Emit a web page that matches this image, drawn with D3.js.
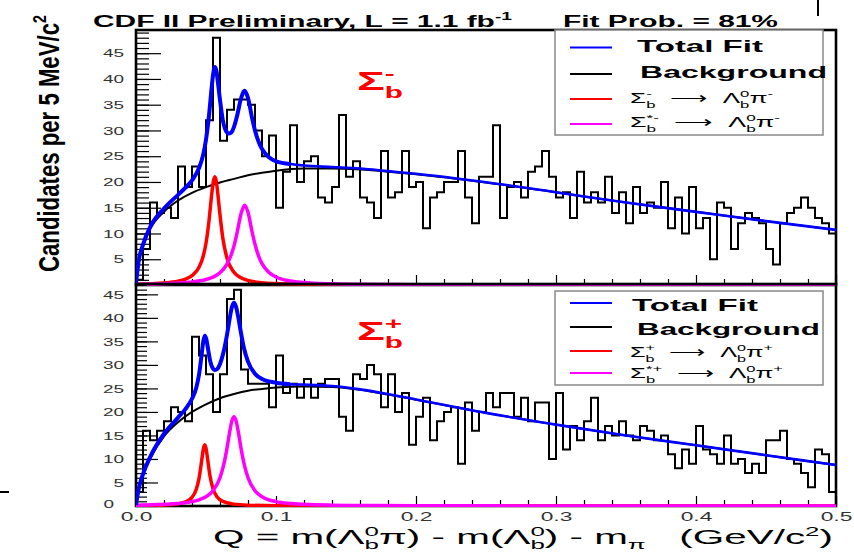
<!DOCTYPE html>
<html><head><meta charset="utf-8">
<script src="https://cdn.jsdelivr.net/npm/d3@7"></script>
<style>body{margin:0;background:#fff} svg{display:block}</style>
</head><body><svg id="c" width="854" height="554"></svg>
<script>
// ---------------- DATA ----------------
const binWidth = 0.005; // GeV/c^2 per bin
const topCounts = [1,7,16,14,15,13,23,19,23,19, 32,48,28,34,36,36,35,30,25,29,
  15,22,31,20,24,25,17,16,19,33, 21,24,17,16,13,26,17,18,26,19,
  20,11,17,18,20,20,26,17,12,21, 21,31,13,19,20,17,22,23,26,21,
  17,18,13,22,16,18,16,21,14,18, 12,19,14,16,15,20,11,17,10,19,
  11,13,5,16,15,7,12,14,13,12, 7,4,12,14,15,17,15,13,12,10];
const bottomCounts = [3,16,14,16,18,21,20,18,36,32, 28,20,28,44,46,29,26,26,26,21,
  32,24,26,23,27,23,26,27,27,19, 16,28,27,30,28,21,28,20,24,13,
  19,23,14,18,20,21,9,22,16,20, 24,21,24,24,19,23,18,22,22,10,
  24,12,17,14,18,23,14,17,15,18, 15,14,17,16,14,15,11,8,12,9,
  17,12,11,9,15,9,10,7,9,7, 14,14,16,10,9,7,4,12,11,3];

const topBackground = [[0,0],[0.002,4.5],[0.005,7.5],[0.01,10.8],[0.02,14.2],[0.03,16.4],[0.04,17.9],[0.05,19.0],[0.06,19.9],[0.07,20.6],[0.08,21.3],[0.09,21.8],[0.1,22.2],[0.12,22.6],[0.14,22.6],[0.16,22.4],[0.18,22.0],[0.2,21.5],[0.25,19.9],[0.3,18.0],[0.35,16.0],[0.4,14.2],[0.45,12.4],[0.5,10.7]];
const topSigmaB = [[0,0.16],[0.02,0.39],[0.03,0.73],[0.035,1.10],[0.04,1.81],[0.045,3.44],[0.048,5.59],[0.05,8.1],[0.052,12.1],[0.054,17.4],[0.055,19.7],[0.0563,21.0],[0.0575,19.9],[0.058,18.8],[0.06,13.6],[0.062,9.1],[0.065,5.2],[0.07,2.47],[0.075,1.40],[0.08,0.89],[0.09,0.45],[0.1,0.27],[0.12,0.13],[0.15,0.06],[0.2,0.02],[0.5,0.0]];
const topSigmaBStar = [[0,0.14],[0.02,0.26],[0.04,0.59],[0.05,1.07],[0.055,1.54],[0.06,2.38],[0.065,4.06],[0.068,5.87],[0.07,7.6],[0.072,9.9],[0.075,13.8],[0.0776,15.5],[0.08,14.1],[0.083,10.2],[0.085,7.9],[0.088,5.3],[0.09,4.16],[0.095,2.43],[0.1,1.56],[0.11,0.79],[0.12,0.47],[0.14,0.22],[0.16,0.13],[0.2,0.06],[0.3,0.02],[0.5,0.01]];
const topTotal = [[0,0.3],[0.002,4.8],[0.005,7.85],[0.01,11.2],[0.02,14.85],[0.03,17.5],[0.035,18.8],[0.04,20.3],[0.045,22.7],[0.048,25.3],[0.05,28.2],[0.052,32.5],[0.054,38.2],[0.055,40.7],[0.0563,42.3],[0.0575,41.5],[0.058,40.5],[0.06,35.9],[0.062,32.0],[0.065,29.6],[0.066,29.4],[0.068,29.6],[0.07,30.7],[0.072,32.6],[0.075,36.2],[0.0776,37.7],[0.08,36.3],[0.083,32.3],[0.085,30.0],[0.088,27.5],[0.09,26.4],[0.095,24.8],[0.1,24.0],[0.11,23.5],[0.12,23.2],[0.14,22.9],[0.16,22.6],[0.18,22.1],[0.2,21.6],[0.25,19.95],[0.3,18.0],[0.35,16.0],[0.4,14.2],[0.45,12.4],[0.5,10.7]];

const bottomBackground = [[0,0],[0.002,3.5],[0.005,6.5],[0.01,10.0],[0.02,14.8],[0.03,17.8],[0.04,20.0],[0.05,21.6],[0.06,22.9],[0.07,23.8],[0.08,24.5],[0.09,24.9],[0.1,25.2],[0.12,25.4],[0.14,25.3],[0.16,24.7],[0.18,23.7],[0.2,22.6],[0.25,19.8],[0.3,17.3],[0.35,15.0],[0.4,12.9],[0.45,10.8],[0.5,8.7]];
const bottomSigmaB = [[0,0.07],[0.02,0.21],[0.03,0.47],[0.035,0.84],[0.04,1.84],[0.043,3.5],[0.045,5.83],[0.047,9.85],[0.048,11.95],[0.0491,13.0],[0.0502,11.95],[0.051,10.3],[0.053,6.16],[0.055,3.67],[0.058,1.91],[0.062,0.98],[0.07,0.40],[0.08,0.18],[0.1,0.07],[0.15,0.02],[0.5,0]];
const bottomSigmaBStar = [[0,0.18],[0.02,0.35],[0.03,0.53],[0.04,0.93],[0.045,1.31],[0.05,1.97],[0.055,3.24],[0.06,6.0],[0.063,9.2],[0.065,12.3],[0.067,15.9],[0.0685,18.1],[0.07,19.0],[0.0715,18.1],[0.073,15.9],[0.075,12.3],[0.077,9.2],[0.08,6.0],[0.085,3.24],[0.09,1.97],[0.1,0.93],[0.11,0.53],[0.12,0.35],[0.14,0.18],[0.17,0.09],[0.2,0.05],[0.3,0.02],[0.5,0.01]];
const bottomTotal = [[0,0.25],[0.002,3.76],[0.005,6.8],[0.01,10.35],[0.02,15.36],[0.03,18.8],[0.035,20.5],[0.04,22.8],[0.043,25.1],[0.045,27.9],[0.047,32.5],[0.048,34.9],[0.0491,36.2],[0.0502,35.5],[0.051,34.2],[0.053,30.8],[0.055,29.2],[0.0565,28.9],[0.058,29.1],[0.06,30.2],[0.062,32.1],[0.065,36.4],[0.067,40.0],[0.0685,42.3],[0.07,43.2],[0.0715,42.3],[0.073,40.2],[0.075,36.8],[0.077,33.7],[0.08,30.7],[0.085,28.1],[0.09,27.0],[0.1,26.2],[0.11,25.9],[0.12,25.8],[0.14,25.5],[0.16,24.8],[0.18,23.8],[0.2,22.65],[0.25,19.8],[0.3,17.3],[0.35,15.0],[0.4,12.9],[0.45,10.8],[0.5,8.7]];

const xMajorTicks = [0, 0.1, 0.2, 0.3, 0.4, 0.5];
const xTickLabels = ["0.0", "0.1", "0.2", "0.3", "0.4", "0.5"];
const xMinorTicks = [0.02,0.04,0.06,0.08,0.12,0.14,0.16,0.18,0.22,0.24,0.26,0.28,0.32,0.34,0.36,0.38,0.42,0.44,0.46,0.48];
const yTicksTop = [5,10,15,20,25,30,35,40,45];
const yTicksBottom = [0,5,10,15,20,25,30,35,40,45];
const legendLabels = ["Total Fit", "Background"];

// ---------------- DRAWING ----------------
const FONT = "'Liberation Sans', Arial, Helvetica, sans-serif";
const NB = '\u00a0';
const svg = d3.select('#c');
svg.append('rect').attr('width',854).attr('height',554).attr('fill','#fff');

const x = d3.scaleLinear().domain([0,0.5]).range([136,836]);
const X0 = 136, X1 = 836;

function rich(parent, parts, o) {
  const g = parent.append('g');
  const inner = g.append('g')
    .attr('font-family', o.family || FONT)
    .attr('font-weight', o.weight || 'normal')
    .attr('fill', o.fill || '#000');
  let cx = 0;
  const size = o.size;
  const subOff = o.subOff || 0.32, supOff = o.supOff || 0.42;
  parts.forEach(p => {
    const part = typeof p === 'string' ? {t:p} : p;
    if (part.t) {
      const t = inner.append('text').attr('x',cx).attr('y',0).attr('font-size',size).text(part.t.replace(/ /g, NB));
      cx += t.node().getComputedTextLength();
    }
    let ext = 0;
    if (part.sup) {
      const s = inner.append('text').attr('x',cx).attr('y',-size*supOff).attr('font-size',size*0.64).text(part.sup);
      ext = Math.max(ext, s.node().getComputedTextLength());
    }
    if (part.sub) {
      const s = inner.append('text').attr('x',cx).attr('y',size*subOff).attr('font-size',size*0.64).text(part.sub);
      ext = Math.max(ext, s.node().getComputedTextLength());
    }
    cx += ext;
  });
  const sx = o.width ? o.width / cx : (o.sx || 1);
  g.attr('transform', `translate(${o.x},${o.y})` + (o.rotate ? ` rotate(${o.rotate})` : '') + ` scale(${sx},${o.sy || 1})`);
  return g;
}

function histPoints(counts) {
  const pts = [[0,0]];
  counts.forEach((c,i) => { pts.push([i*binWidth, c]); pts.push([(i+1)*binWidth, c]); });
  pts.push([counts.length*binWidth, 0]);
  return pts;
}

function drawPanel(cfg) {
  const y = cfg.y;
  const [yb, yt] = y.range();
  const g = svg.append('g');
  const clipId = 'clip' + cfg.id;
  svg.append('clipPath').attr('id', clipId).append('rect')
    .attr('x', X0).attr('y', yt - 2).attr('width', X1 - X0 + 2).attr('height', yb - yt + 3);

  const ymaxInt = Math.floor(y.domain()[1]);
  const ax1 = g.append('g').attr('transform', `translate(${X0},0)`)
    .call(d3.axisLeft(y).tickValues(d3.range(1, ymaxInt + 1)).tickSize(-cfg.minorLen).tickFormat(''));
  ax1.select('.domain').remove();
  ax1.selectAll('line').attr('stroke','#000').attr('stroke-width',1.2);
  const ax2 = g.append('g').attr('transform', `translate(${X0},0)`)
    .call(d3.axisLeft(y).tickValues(cfg.yTicks).tickSize(-cfg.majorLen).tickPadding(12).tickFormat(d3.format('d')));
  ax2.select('.domain').remove();
  ax2.selectAll('line').attr('stroke','#000').attr('stroke-width',1.2);
  ax2.attr('font-family', FONT).attr('font-size', 11.5);
  ax2.selectAll('text').attr('fill','#333').attr('x', -12/1.65).attr('transform','scale(1.65,1)');
  ax2.selectAll('.tick').filter(d => d === 0).select('text').attr('x', -22/1.65).attr('dy','0.1em');

  const ax3 = g.append('g').attr('transform', `translate(0,${yb})`)
    .call(d3.axisBottom(x).tickValues(xMinorTicks).tickSize(-6).tickFormat(''));
  ax3.select('.domain').remove();
  ax3.selectAll('line').attr('stroke','#000').attr('stroke-width',1.2);
  const ax4 = g.append('g').attr('transform', `translate(0,${yb})`)
    .call(d3.axisBottom(x).tickValues(xMajorTicks).tickSize(-10).tickPadding(6)
      .tickFormat((d,i) => cfg.xLabels ? xTickLabels[i] : ''));
  ax4.select('.domain').remove();
  ax4.selectAll('line').attr('stroke','#000').attr('stroke-width',1.2);
  ax4.attr('font-family', FONT).attr('font-size', 12);
  ax4.selectAll('text').attr('fill','#333').attr('transform','scale(1.9,1)');

  g.append('rect').attr('x', X0).attr('y', yt).attr('width', X1 - X0).attr('height', yb - yt)
    .attr('fill','none').attr('stroke','#000').attr('stroke-width',2.6);

  const content = g.append('g').attr('clip-path', `url(#${clipId})`);
  const line = d3.line().x(d => x(d[0])).y(d => y(d[1]));
  const smooth = d3.line().x(d => x(d[0])).y(d => y(d[1])).curve(d3.curveMonotoneX);

  content.append('path').datum(histPoints(cfg.counts)).attr('d', line)
    .attr('fill','none').attr('stroke','#000').attr('stroke-width',2).attr('stroke-linejoin','miter');
  content.append('path').datum(cfg.bg).attr('d', smooth).attr('fill','none').attr('stroke','#000').attr('stroke-width',2);
  content.append('path').datum(cfg.sig1).attr('d', smooth).attr('fill','none').attr('stroke','#ff0000').attr('stroke-width',3.5);
  content.append('path').datum(cfg.sig2).attr('d', smooth).attr('fill','none').attr('stroke','#ff00ff').attr('stroke-width',3.5);
  content.append('path').datum(cfg.total).attr('d', smooth).attr('fill','none').attr('stroke','#0000ff').attr('stroke-width',2.6);
  content.append('path').datum(cfg.total.filter(d => d[0] <= 0.11)).attr('d', smooth).attr('fill','none').attr('stroke','#0000ff').attr('stroke-width',4);

  const L = cfg.legend;
  g.append('rect').attr('x', 555).attr('y', L.top).attr('width', 268).attr('height', L.bottom - L.top)
    .attr('fill','#fff').attr('stroke','#888').attr('stroke-width',1.5);
  const colors = ['#0000ff', '#000', '#ff0000', '#ff00ff'];
  L.rows.forEach((r, i) => {
    g.append('line').attr('x1', 570).attr('x2', 612).attr('y1', r.ly).attr('y2', r.ly)
      .attr('stroke', colors[i]).attr('stroke-width', 1.8);
  });
  rich(g, [legendLabels[0]], {x: L.rows[0].tx, y: L.rows[0].ty, size: 16, weight: 'bold', width: L.rows[0].w});
  rich(g, [legendLabels[1]], {x: L.rows[1].tx, y: L.rows[1].ty, size: 16, weight: 'bold', width: L.rows[1].w});
  const s = cfg.sign;
  rich(g, [{t:'Σ', sub:'b', sup:s}, '  ⟶  ', {t:'Λ', sub:'b', sup:'0'}, {t:'π', sup:s}],
    {x: L.rows[2].tx, y: L.rows[2].ty, size: 15, width: L.rows[2].w});
  rich(g, [{t:'Σ', sub:'b', sup:'*' + s}, '  ⟶  ', {t:'Λ', sub:'b', sup:'0'}, {t:'π', sup:s}],
    {x: L.rows[3].tx, y: L.rows[3].ty, size: 15, width: L.rows[3].w});

  rich(g, [{t:'Σ', sub:'b', sup:s}], {x: 357, y: cfg.labelY, size: 26, weight: 'bold', fill: '#ff0000', width: 46});
}

drawPanel({
  id: 'top', y: d3.scaleLinear().domain([0,49.5]).range([285,30]),
  counts: topCounts, bg: topBackground, sig1: topSigmaB, sig2: topSigmaBStar, total: topTotal,
  yTicks: yTicksTop, majorLen: 25, minorLen: 13, xLabels: false, sign: '-', labelY: 90,
  legend: {top: 30, bottom: 135, rows: [
    {ly: 47.5, tx: 637, ty: 52, w: 126},
    {ly: 74, tx: 640, ty: 78, w: 187},
    {ly: 99, tx: 630, ty: 103, w: 143},
    {ly: 124, tx: 630, ty: 127, w: 150}]}
});
drawPanel({
  id: 'bot', y: d3.scaleLinear().domain([0,47.2]).range([506,284]),
  counts: bottomCounts, bg: bottomBackground, sig1: bottomSigmaB, sig2: bottomSigmaBStar, total: bottomTotal,
  yTicks: yTicksBottom, majorLen: 22, minorLen: 11, xLabels: true, sign: '+', labelY: 340,
  legend: {top: 291, bottom: 385, rows: [
    {ly: 303, tx: 632, ty: 311, w: 126},
    {ly: 327, tx: 637, ty: 335, w: 183},
    {ly: 351, tx: 630, ty: 357, w: 143},
    {ly: 373, tx: 630, ty: 378, w: 153}]}
});

rich(svg, ['CDF II Preliminary, L = 1.1 fb', {sup:'-1'}], {x: 93, y: 26.5, size: 16, weight: 'bold', width: 419});
rich(svg, ['Fit Prob. = 81%'], {x: 563, y: 26.5, size: 16, weight: 'bold', width: 215});
rich(svg, ['Q = m(', {t:'Λ', sub:'b', sup:'0'}, 'π) - m(', {t:'Λ', sub:'b', sup:'0'}, ') - m', {sub:'π'}, '   (GeV/c', {sup:'2'}, ')'],
  {x: 213, y: 544, size: 20, width: 620, subOff: 0.24});
rich(svg, ['Candidates per 5 MeV/c', {sup:'2'}], {x: 59, y: 272, size: 20, weight: 'bold', rotate: -90, width: 257, sy: 1.5});

svg.append('line').attr('x1',818).attr('x2',818).attr('y1',0).attr('y2',16).attr('stroke','#000').attr('stroke-width',2);
svg.append('line').attr('x1',0).attr('x2',9).attr('y1',492).attr('y2',492).attr('stroke','#000').attr('stroke-width',2);
</script>
</body></html>
